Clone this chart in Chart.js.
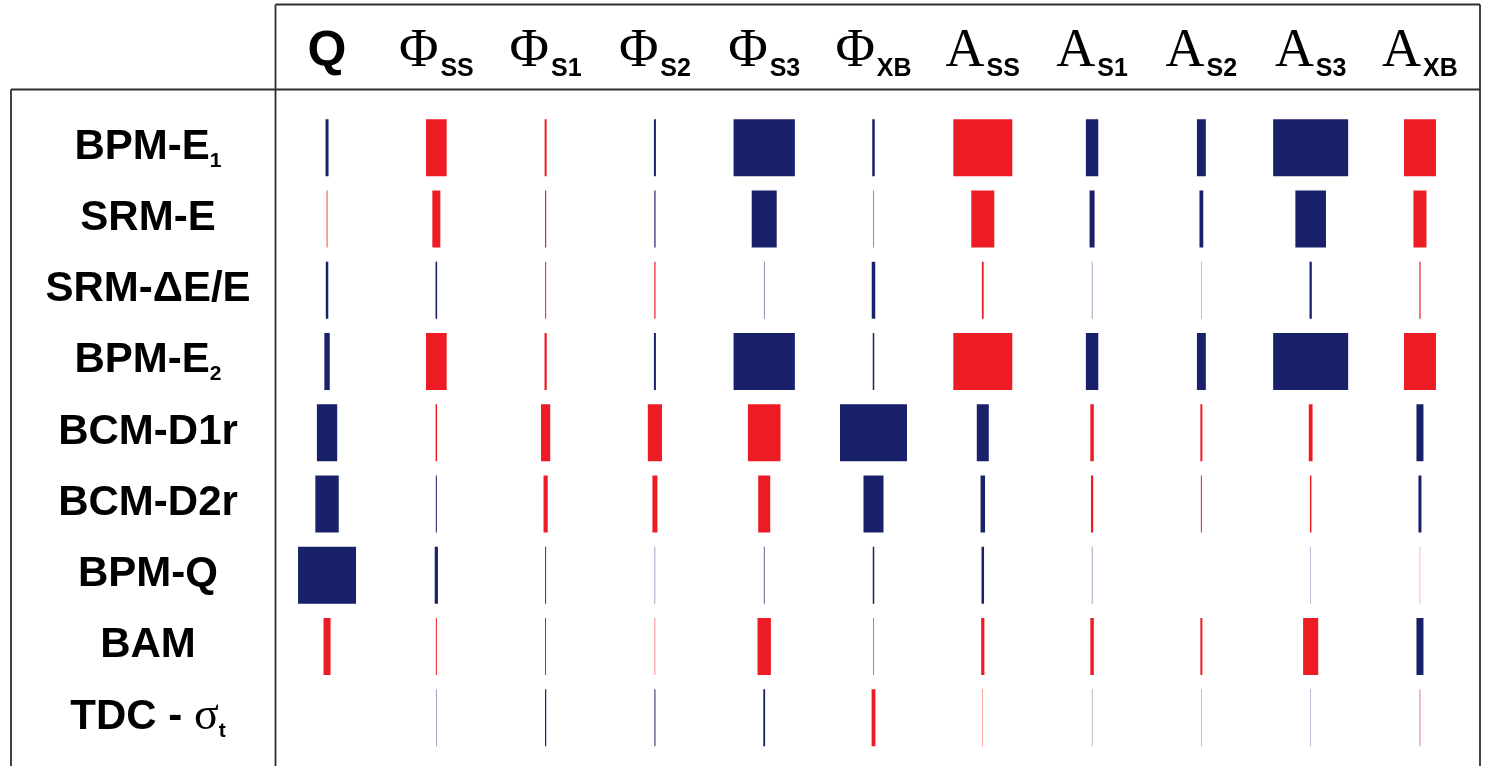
<!DOCTYPE html>
<html><head><meta charset="utf-8">
<script src="https://cdn.jsdelivr.net/npm/chart.js@4.4.1/dist/chart.umd.min.js"></script>
<style>html,body{margin:0;padding:0;background:#fff;overflow:hidden}canvas{display:block}</style>
</head><body>
<canvas id="c" width="1487" height="766"></canvas>
<script>
// ---- row (y) labels ----
const rowNames = ['BPM-E', 'SRM-E', 'SRM-\u0394E/E', 'BPM-E', 'BCM-D1r', 'BCM-D2r', 'BPM-Q', 'BAM', 'TDC - \u03c3'];
const rowSubs  = ['1', '', '', '2', '', '', '', '', 't'];
// ---- column (x) labels ----
const colNames = ['Q', '\u03a6', '\u03a6', '\u03a6', '\u03a6', '\u03a6', 'A', 'A', 'A', 'A', 'A'];
const colSubs  = ['', 'SS', 'S1', 'S2', 'S3', 'XB', 'SS', 'S1', 'S2', 'S3', 'XB'];

// ---- coefficients, one array per column, one value per row (positive = blue, negative = red) ----
const Q     = [ 0.030, -0.008,  0.025,  0.054,  0.203,  0.234,  0.580, -0.070,  0.000];
const PhiSS = [-0.207, -0.080,  0.016, -0.207, -0.015,  0.010,  0.032, -0.010,  0.004];
const PhiS1 = [-0.020, -0.012, -0.010, -0.022, -0.092, -0.042,  0.009,  0.008,  0.012];
const PhiS2 = [ 0.020,  0.012, -0.012,  0.020, -0.142, -0.050,  0.004, -0.005,  0.010];
const PhiS3 = [ 0.613,  0.250,  0.005,  0.613, -0.326, -0.120,  0.007, -0.134,  0.018];
const PhiXB = [ 0.025,  0.005,  0.035,  0.015,  0.670,  0.200,  0.015,  0.005, -0.038];
const ASS   = [-0.590, -0.230, -0.018, -0.590,  0.120,  0.045,  0.025, -0.032, -0.004];
const AS1   = [ 0.124,  0.050,  0.004,  0.124, -0.035, -0.022,  0.004, -0.035,  0.003];
const AS2   = [ 0.089,  0.038,  0.003,  0.089, -0.020, -0.010,  0.000, -0.020,  0.003];
const AS3   = [ 0.750,  0.306,  0.023,  0.750, -0.038, -0.015,  0.003, -0.151,  0.003];
const AXB   = [-0.320, -0.130, -0.012, -0.320,  0.070,  0.030, -0.003,  0.070, -0.006];

const columns = [Q, PhiSS, PhiS1, PhiS2, PhiS3, PhiXB, ASS, AS1, AS2, AS3, AXB];

const BLUE = '#19216a';
const RED = '#ed1c24';
const WIDTH_PER_COEF = 0.915;   // x-units of bar width per unit of coefficient

const rowLabels = rowNames.map((n, i) => n + rowSubs[i]);

const datasets = columns.map((vals, c) => ({
  label: colNames[c] + colSubs[c],
  data: vals.map(v => [c - Math.abs(v) * WIDTH_PER_COEF / 2, c + Math.abs(v) * WIDTH_PER_COEF / 2]),
  backgroundColor: vals.map(v => v >= 0 ? BLUE : RED),
  borderWidth: 0,
  inflateAmount: 0,
  grouped: false,
  barPercentage: 0.8,
  categoryPercentage: 1.0
}));

function runsFor(text, mainFont, greekFont) {
  const runs = [];
  for (const ch of text) {
    const f = /[\u03b1-\u03c9]/.test(ch) ? greekFont : mainFont;
    if (runs.length && runs[runs.length - 1].f === f) runs[runs.length - 1].t += ch;
    else runs.push({ t: ch, f: f, dy: 0 });
  }
  return runs;
}
function drawRuns(ctx, runs, cx, baseline) {
  let total = 0;
  runs.forEach(r => { ctx.font = r.f; r.w = ctx.measureText(r.t).width + (r.gap || 0); total += r.w; });
  let x = cx - total / 2;
  runs.forEach(r => { ctx.font = r.f; ctx.fillText(r.t, x + (r.gap || 0), baseline + r.dy); x += r.w; });
}

const tablePlugin = {
  id: 'table',
  afterDraw(chart) {
    const ctx = chart.ctx;
    const xs = chart.scales.x, ys = chart.scales.y;
    ctx.save();
    // table lines
    ctx.strokeStyle = '#2e2e2e';
    ctx.lineWidth = 1.8;
    ctx.beginPath();
    ctx.moveTo(275.5, 4.5); ctx.lineTo(1480, 4.5);
    ctx.moveTo(11, 89.5); ctx.lineTo(1480, 89.5);
    ctx.moveTo(275.5, 4.5); ctx.lineTo(275.5, 766);
    ctx.moveTo(11, 89.5); ctx.lineTo(11, 766);
    ctx.moveTo(1480, 4.5); ctx.lineTo(1480, 766);
    ctx.stroke();

    ctx.fillStyle = '#000';
    ctx.textAlign = 'left';
    ctx.textBaseline = 'alphabetic';
    // column headers
    colNames.forEach((n, c) => {
      const cx = xs.getPixelForValue(c);
      const mainFont = n === 'Q' ? 'bold 50px "Liberation Sans", Arial, sans-serif'
                                 : '54px "Liberation Serif", "Times New Roman", serif';
      const runs = [{ t: n, f: mainFont, dy: 0 }];
      if (colSubs[c]) runs.push({ t: colSubs[c], f: 'bold 25px "Liberation Sans", Arial, sans-serif', dy: 10, gap: 2 });
      drawRuns(ctx, runs, cx, 66);
    });
    // row labels
    rowNames.forEach((n, r) => {
      const cy = ys.getPixelForValue(r);
      const runs = runsFor(n, 'bold 42px "Liberation Sans", Arial, sans-serif', '46px "Liberation Serif", serif');
      if (rowSubs[r]) runs.push({ t: rowSubs[r], f: 'bold 21px "Liberation Sans", Arial, sans-serif', dy: 8 });
      drawRuns(ctx, runs, 148, cy + 11);
    });
    ctx.restore();
  }
};

new Chart(document.getElementById('c'), {
  type: 'bar',
  data: { labels: rowLabels, datasets: datasets },
  options: {
    indexAxis: 'y',
    responsive: false,
    animation: false,
    layout: { padding: { left: 272.4, right: 12.4, top: 112, bottom: 12.7 } },
    plugins: { legend: { display: false }, tooltip: { enabled: false } },
    scales: {
      x: { type: 'linear', min: -0.5, max: 10.5, display: false },
      y: { type: 'category', display: false, offset: true }
    }
  },
  plugins: [tablePlugin]
});
</script>
</body></html>
